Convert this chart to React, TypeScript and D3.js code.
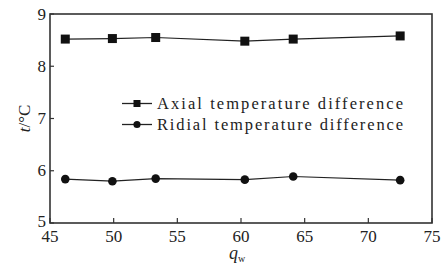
import React from "react";
import * as d3 from "d3";

const qw = [46.2, 49.9, 53.3, 60.3, 64.1, 72.5];
const axial = [8.52, 8.53, 8.55, 8.48, 8.52, 8.58];
const radial = [5.84, 5.80, 5.85, 5.83, 5.89, 5.82];
const xTicks = [45, 50, 55, 60, 65, 70, 75];
const yTicks = [5, 6, 7, 8, 9];
const seriesNames = ["Axial temperature difference", "Ridial temperature difference"];

const W = 448, H = 270;
const M = { left: 50, right: 432, top: 14, bottom: 223 };
const FONT = "Liberation Serif";
const INK = "#222";

export default function App() {
  const x = d3.scaleLinear().domain([45, 75]).range([M.left, M.right]);
  const y = d3.scaleLinear().domain([5, 9]).range([M.bottom, M.top]);
  const line = d3.line<number>().x((_, i) => x(qw[i])).y((d) => y(d));
  const ts = { fontFamily: FONT };

  return (
    <svg width={W} height={H} style={{ position: "absolute", left: 0, top: 0, background: "#fff" }}>
      <rect x={M.left} y={M.top} width={M.right - M.left} height={M.bottom - M.top} fill="none" stroke="#333" strokeWidth={1.6} />
      {xTicks.map((t) => (
        <g key={"x" + t}>
          <line x1={x(t)} x2={x(t)} y1={M.bottom} y2={M.bottom - 5} stroke="#333" strokeWidth={1.2} />
          <text x={x(t)} y={242} textAnchor="middle" style={ts} fontSize={17} fill={INK}>{t}</text>
        </g>
      ))}
      {yTicks.map((t) => (
        <g key={"y" + t}>
          <line x1={M.left} x2={M.left + 4} y1={y(t)} y2={y(t)} stroke="#333" strokeWidth={1.2} />
          <text x={46} y={y(t) + (t === 5 ? 4 : 5.5)} textAnchor="end" style={ts} fontSize={17} fill={INK}>{t}</text>
        </g>
      ))}
      <path d={line(axial) || ""} fill="none" stroke="#222" strokeWidth={1.2} />
      <path d={line(radial) || ""} fill="none" stroke="#222" strokeWidth={1.2} />
      {axial.map((v, i) => (
        <rect key={"a" + i} x={x(qw[i]) - 4.5} y={y(v) - 4.5} width={9} height={9} fill="#111" />
      ))}
      {radial.map((v, i) => (
        <circle key={"r" + i} cx={x(qw[i])} cy={y(v)} r={4.3} fill="#111" />
      ))}
      <g>
        <line x1={122} x2={152} y1={103.5} y2={103.5} stroke="#222" strokeWidth={1.3} />
        <rect x={133.5} y={100} width={7} height={7} fill="#111" />
        <text x={157} y={108.5} style={ts} fontSize={16.5} fill={INK} textLength={246} lengthAdjust="spacing">{seriesNames[0]}</text>
        <line x1={122} x2={152} y1={124.5} y2={124.5} stroke="#222" strokeWidth={1.3} />
        <circle cx={137} cy={124.5} r={3.6} fill="#111" />
        <text x={157} y={129.5} style={ts} fontSize={16.5} fill={INK} textLength={246} lengthAdjust="spacing">{seriesNames[1]}</text>
      </g>
      <text x={229} y={259} style={ts} fontSize={18} fontStyle="italic" fill={INK}>q<tspan fontSize={10} fontStyle="normal" dy={3}>w</tspan></text>
      <text transform={`translate(30,${(M.top + M.bottom) / 2}) rotate(-90)`} textAnchor="middle" style={ts} fontSize={17} fill={INK}>
        <tspan fontStyle="italic">t</tspan>/°C
      </text>
    </svg>
  );
}
